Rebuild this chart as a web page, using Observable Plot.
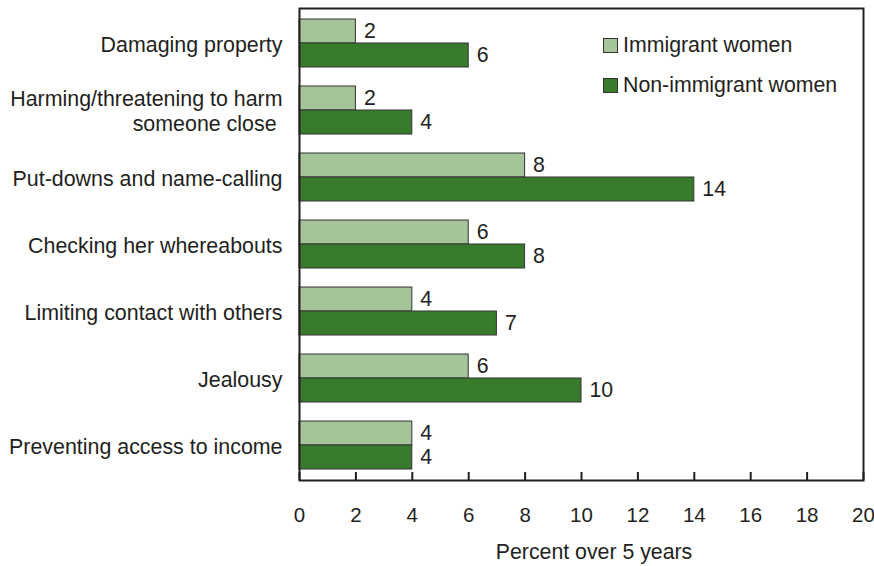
<!DOCTYPE html>
<html><head><meta charset="utf-8">
<script src="https://cdn.jsdelivr.net/npm/d3@7"></script>
<script src="https://cdn.jsdelivr.net/npm/@observablehq/plot@0.6"></script>
<style>
body{margin:0;background:#fff;font-family:"Liberation Sans",Arial,sans-serif;color:#231f20}
#wrap{position:relative;width:874px;height:566px;overflow:hidden}
#legend{position:absolute;left:603px;top:26px;font-size:21.3px}
#legend .row{display:flex;align-items:center;height:39.5px}
#legend .sw{width:13px;height:13px;border:1px solid #333;margin-right:5px;box-sizing:content-box}
#xtitle{position:absolute;left:444px;width:300px;top:542px;text-align:center;font-size:21.3px;line-height:21px}
</style></head><body><div id="wrap"></div>
<script>
const categories = [
  "Damaging property",
  "Harming/threatening to harm\nsomeone close\u00a0",
  "Put-downs and name-calling",
  "Checking her whereabouts",
  "Limiting contact with others",
  "Jealousy",
  "Preventing access to income"
];
const series = ["Immigrant women", "Non-immigrant women"];
const immigrant = [2, 2, 8, 6, 4, 6, 4];
const nonImmigrant = [6, 4, 14, 8, 7, 10, 4];
const xTicks = [0, 2, 4, 6, 8, 10, 12, 14, 16, 18, 20];
const colors = ["#a6c49a", "#387b2d"];
const xTitle = "Percent over 5 years";

const immData = categories.map((c, i) => ({category: c, series: series[0], value: immigrant[i]}));
const nonData = categories.map((c, i) => ({category: c, series: series[1], value: nonImmigrant[i]}));
const ink = "#231f20";

const chart = Plot.plot({
  width: 874,
  height: 566,
  marginLeft: 299,
  marginRight: 11,
  marginTop: 8,
  marginBottom: 86,
  style: {fontFamily: "'Liberation Sans', Arial, sans-serif", background: "white", color: ink},
  x: {domain: [0, 20]},
  y: {type: "band", domain: categories, paddingInner: 0.288, paddingOuter: 0.144},
  color: {domain: series, range: colors},
  marks: [
    Plot.barX(immData, {x: "value", y: "category", fill: "series", stroke: "#333", strokeWidth: 1, insetBottom: 24}),
    Plot.barX(nonData, {x: "value", y: "category", fill: "series", stroke: "#333", strokeWidth: 1, insetTop: 24}),
    Plot.text(immData, {x: "value", y: "category", text: d => String(d.value), dx: 8, dy: -12, textAnchor: "start", fontSize: 21.3, fill: ink}),
    Plot.text(nonData, {x: "value", y: "category", text: d => String(d.value), dx: 8, dy: 12, textAnchor: "start", fontSize: 21.3, fill: ink}),
    Plot.frame({stroke: ink, strokeWidth: 2}),
    Plot.axisY({tickSize: 0, tickPadding: 17, fontSize: 21.4, lineHeight: 1.18, label: null, fill: ink}),
    Plot.axisX({ticks: xTicks, tickSize: -8, tickPadding: 35, fontSize: 20.5, label: null, strokeWidth: 2, stroke: ink, fill: ink})
  ]
});

const wrap = document.getElementById("wrap");
wrap.appendChild(chart);

const legend = document.createElement("div");
legend.id = "legend";
series.forEach((s, i) => {
  const row = document.createElement("div");
  row.className = "row";
  const sw = document.createElement("span");
  sw.className = "sw";
  sw.style.background = colors[i];
  const t = document.createElement("span");
  t.textContent = s;
  row.appendChild(sw);
  row.appendChild(t);
  legend.appendChild(row);
});
wrap.appendChild(legend);

const title = document.createElement("div");
title.id = "xtitle";
title.textContent = xTitle;
wrap.appendChild(title);
</script></body></html>
